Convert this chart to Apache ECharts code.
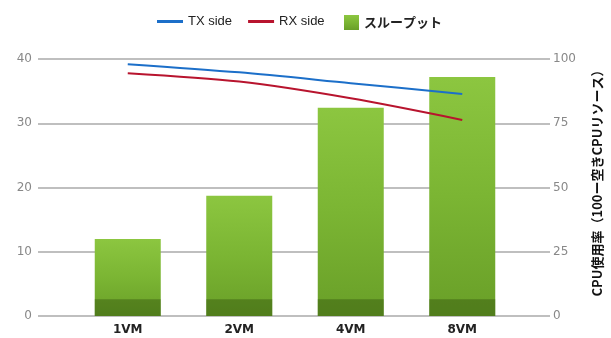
<!DOCTYPE html>
<html>
<head>
<meta charset="utf-8">
<script src="https://cdn.jsdelivr.net/npm/echarts@6/dist/echarts.min.js"></script>
<style>
  html, body { margin: 0; padding: 0; background: #fff; }
  #chart { width: 611px; height: 338px; }
</style>
</head>
<body>
<div id="chart"></div>
<script>
// VM count categories
const categories = ['1VM', '2VM', '4VM', '8VM'];
// Throughput (left axis)
const throughput = [12.0, 18.7, 32.4, 37.2];
// CPU usage, transmit and receive sides (right axis, %)
const txSide = [98.0, 94.8, 90.6, 86.4];
const rxSide = [94.5, 91.2, 84.7, 76.3];
// Tick labels
const leftTicks = [0, 10, 20, 30, 40];
const rightTicks = [0, 25, 50, 75, 100];
// Dark base band height on each bar (left-axis units)
const baseBand = [2.6, 2.6, 2.6, 2.6];
const rightAxisTitle = 'CPU使用率（100ー空きCPUリソース）';

const chart = echarts.init(document.getElementById('chart'), null, { renderer: 'canvas' });
const latin = '"Liberation Sans", "Noto Sans CJK JP", Arial, sans-serif';
const wide = '"DejaVu Sans", "Noto Sans CJK JP", Verdana, sans-serif';
const cjk = '"Noto Sans CJK JP", "Liberation Sans", sans-serif';
const gridTop = 59, gridBottom = 22;

const option = {
  backgroundColor: '#ffffff',
  animation: false,
  textStyle: { fontFamily: latin },
  legend: [
    {
      data: ['TX side', 'RX side'],
      left: 152, top: 10,
      itemWidth: 26, itemHeight: 3, itemGap: 16,
      textStyle: { fontSize: 13, color: '#222', fontFamily: latin },
      icon: 'rect'
    },
    {
      data: ['スループット'],
      left: 339, top: 10,
      itemWidth: 15, itemHeight: 15,
      textStyle: { fontSize: 13, color: '#222', fontWeight: 'bold', fontFamily: cjk },
      icon: 'rect'
    }
  ],
  grid: [
    { left: 38, right: 61, top: gridTop, bottom: gridBottom },
    { left: 72, right: 93, top: gridTop, bottom: gridBottom }
  ],
  xAxis: [
    { type: 'value', gridIndex: 0, min: 0, max: 1, show: false },
    {
      type: 'category', gridIndex: 1, data: categories,
      axisLine: { show: false }, axisTick: { show: false },
      axisLabel: { color: '#222', fontSize: 12, fontWeight: 'bold', margin: 8, fontFamily: wide }
    }
  ],
  yAxis: [
    {
      type: 'value', gridIndex: 0, position: 'left', min: 0, max: 40, interval: 10,
      axisLine: { show: false }, axisTick: { show: false },
      axisLabel: {
        color: '#888', fontSize: 12, margin: 6, fontFamily: wide,
        formatter: v => leftTicks.includes(v) ? String(v) : ''
      },
      splitLine: { show: true, lineStyle: { color: '#aaaaaa', width: 1.5 } }
    },
    {
      type: 'value', gridIndex: 0, position: 'right', min: 0, max: 100, interval: 25,
      axisLine: { show: false }, axisTick: { show: false },
      axisLabel: {
        color: '#888', fontSize: 12, margin: 3, fontFamily: wide,
        formatter: v => rightTicks.includes(v) ? String(v) : ''
      },
      splitLine: { show: false }
    },
    { type: 'value', gridIndex: 1, min: 0, max: 40, show: false },
    { type: 'value', gridIndex: 1, min: 0, max: 100, show: false }
  ],
  graphic: [
    {
      type: 'text', x: 597, y: 180, rotation: Math.PI / 2,
      style: {
        text: rightAxisTitle, fontSize: 13, fontWeight: 'bold', fill: '#111',
        fontFamily: cjk, align: 'center', verticalAlign: 'middle'
      }
    }
  ],
  series: [
    {
      name: 'スループット', type: 'bar', xAxisIndex: 1, yAxisIndex: 2,
      data: throughput, barWidth: 66, z: 2,
      itemStyle: {
        color: new echarts.graphic.LinearGradient(0, 0, 0, 1, [
          { offset: 0, color: '#8cc640' },
          { offset: 0.5, color: '#7bb533' },
          { offset: 1, color: '#699f28' }
        ])
      }
    },
    {
      name: 'base', type: 'bar', xAxisIndex: 1, yAxisIndex: 2,
      data: baseBand, barWidth: 66, barGap: '-100%', z: 3, silent: true,
      itemStyle: { color: 'rgba(45, 75, 10, 0.4)' }
    },
    {
      name: 'TX side', type: 'line', xAxisIndex: 1, yAxisIndex: 3,
      data: txSide, smooth: 0.3, symbol: 'none', z: 5,
      lineStyle: { color: '#1c6fc9', width: 2 },
      itemStyle: { color: '#1c6fc9' }
    },
    {
      name: 'RX side', type: 'line', xAxisIndex: 1, yAxisIndex: 3,
      data: rxSide, smooth: 0.3, symbol: 'none', z: 5,
      lineStyle: { color: '#b8142e', width: 2 },
      itemStyle: { color: '#b8142e' }
    }
  ]
};
chart.setOption(option);
</script>
</body>
</html>
